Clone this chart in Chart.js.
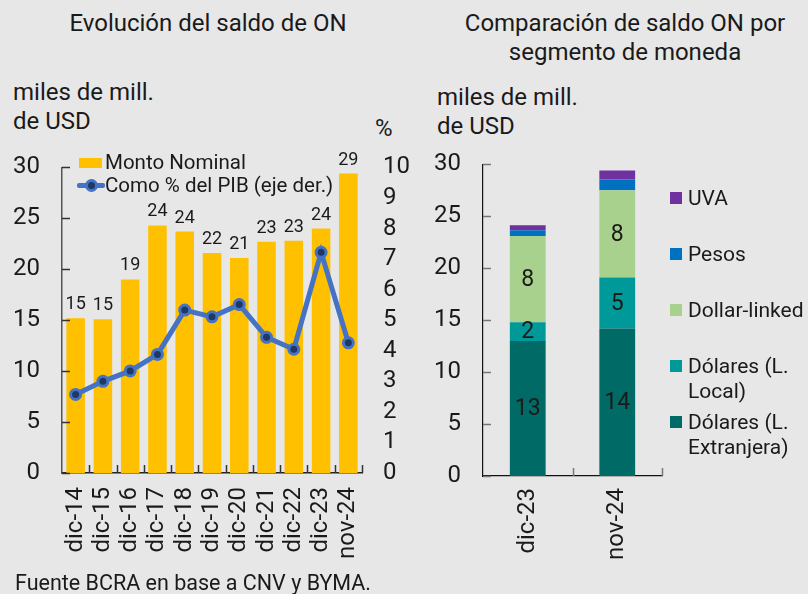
<!DOCTYPE html>
<html lang="es">
<head>
<meta charset="utf-8">
<script src="https://cdn.jsdelivr.net/npm/chart.js@4.4.1/dist/chart.umd.min.js"></script>
<style>
  html, body { margin: 0; padding: 0; }
  body {
    width: 808px; height: 594px; position: relative; overflow: hidden;
    background: #e7e7e7; color: #1a1a1a;
    font-family: Roboto, "Noto Sans", sans-serif;
  }
  .txt { position: absolute; white-space: nowrap; }
  canvas { position: absolute; }
  .leg { position: absolute; font-size: 20.5px; line-height: 24px; white-space: nowrap; }
  .leg .box { position: absolute; }
  .rleg { position: absolute; left: 670px; width: 138px; font-size: 21px; line-height: 24.5px; }
  .rleg .box { position: absolute; left: 0; top: 6px; width: 12px; height: 12px; }
  .rleg .lbl { position: absolute; left: 18px; width: 118px; white-space: normal; }
</style>
</head>
<body>

<div class="txt" style="left:0;width:416px;text-align:center;top:9px;font-size:24px;line-height:29px;">Evolución del saldo de ON</div>
<div class="txt" style="left:13px;top:78px;font-size:24px;line-height:29px;">miles de mill.<br>de USD</div>
<div class="txt" style="left:375px;top:114px;font-size:24px;line-height:29px;">%</div>

<div class="txt" style="left:420px;width:410px;text-align:center;top:9px;font-size:24px;line-height:29px;">Comparación de saldo ON por<br>segmento de moneda</div>
<div class="txt" style="left:437px;top:83px;font-size:24px;line-height:28.5px;">miles de mill.<br>de USD</div>

<canvas id="saldoChart" width="420" height="454" style="left:0;top:131px;"></canvas>
<canvas id="monedaChart" width="388" height="454" style="left:420px;top:128px;"></canvas>

<div id="saldoLegend"></div>
<div id="monedaLegend"></div>

<div class="txt" style="left:15px;top:570px;font-size:21.5px;line-height:26px;">Fuente BCRA en base a CNV y BYMA.</div>

<script>
// saldo de ON, miles de millones de USD y % del PIB
const years = ['dic-14', 'dic-15', 'dic-16', 'dic-17', 'dic-18', 'dic-19', 'dic-20', 'dic-21', 'dic-22', 'dic-23', 'nov-24'];
const montoNominal = [15.2, 15.1, 19.0, 24.3, 23.7, 21.6, 21.1, 22.7, 22.8, 24.0, 29.4];
const pctPib = [2.57, 3.0, 3.34, 3.88, 5.33, 5.11, 5.51, 4.44, 4.05, 7.22, 4.26];

// saldo por segmento de moneda
const fechas = ['dic-23', 'nov-24'];
const usdExtranjera = [13.0, 14.2];
const usdLocal = [1.8, 4.9];
const dollarLinked = [8.3, 8.4];
const pesos = [0.55, 1.05];
const uva = [0.48, 0.87];

const FONT = 'Roboto, "Noto Sans", sans-serif';
const INK = '#1a1a1a';

// short tick marks pointing into the plot (y ticks and x category boundaries)
const innerTicks = {
  id: 'innerTicks',
  afterDraw(chart, args, opts) {
    const { ctx, chartArea: { left, right, bottom }, scales } = chart;
    const x = scales.x, y = scales.y;
    ctx.save();
    ctx.strokeStyle = opts.color || '#666';
    ctx.lineWidth = opts.width || 1.5;
    ctx.beginPath();
    y.ticks.forEach((t, i) => {
      const py = Math.round(y.getPixelForTick(i)) + 0.5;
      ctx.moveTo(left, py); ctx.lineTo(left + 8, py);
    });
    const n = x.ticks.length;
    for (let i = 1; i <= n; i++) {
      const px = i === n ? right : (x.getPixelForTick(i - 1) + x.getPixelForTick(i)) / 2;
      ctx.moveTo(Math.round(px) + 0.5, bottom); ctx.lineTo(Math.round(px) + 0.5, bottom - 8);
    }
    ctx.stroke();
    ctx.restore();
  }
};

// rounded values above bars or centred in stacked segments
const valueLabels = {
  id: 'valueLabels',
  afterDatasetsDraw(chart) {
    const ctx = chart.ctx;
    chart.data.datasets.forEach((ds, di) => {
      if (!ds.valueLabel) return;
      const meta = chart.getDatasetMeta(di);
      ctx.save();
      ctx.fillStyle = INK;
      ctx.textAlign = 'center';
      meta.data.forEach((bar, i) => {
        const txt = String(Math.round(ds.data[i]));
        if (ds.valueLabel === 'top') {
          ctx.font = '18px ' + FONT;
          ctx.textBaseline = 'alphabetic';
          ctx.fillText(txt, bar.x, bar.y - 9);
        } else {
          ctx.font = '23px ' + FONT;
          ctx.textBaseline = 'middle';
          ctx.fillText(txt, bar.x, (bar.y + bar.base) / 2 + 1);
        }
      });
      ctx.restore();
    });
  }
};

const tickFont = { family: FONT, size: 24 };
const xFont = { family: FONT, size: 24 };

// y tick padding also pads the plot top in Chart.js, so the canvases sit a bit higher
const saldoChart = new Chart(document.getElementById('saldoChart'), {
  data: {
    labels: years,
    datasets: [
      { type: 'line', label: 'Como % del PIB (eje der.)', data: pctPib, yAxisID: 'y1',
        borderColor: '#4472C4', borderWidth: 5, tension: 0,
        pointRadius: 5, pointBorderWidth: 3, pointBackgroundColor: '#1F3864', pointBorderColor: '#4472C4',
        order: 0 },
      { type: 'bar', label: 'Monto Nominal', data: montoNominal, yAxisID: 'y',
        backgroundColor: '#FFC000', barPercentage: 0.68, categoryPercentage: 1,
        order: 1, valueLabel: 'top' }
    ]
  },
  options: {
    responsive: false, animation: false, devicePixelRatio: 1,
    layout: { padding: { left: 12, right: 8, top: 20, bottom: 12 } },
    plugins: { legend: { display: false }, tooltip: { enabled: false }, innerTicks: { color: '#333', width: 1.5 } },
    scales: {
      x: {
        grid: { display: false, drawTicks: false },
        border: { color: '#222', width: 1.5 },
        ticks: { font: xFont, color: INK, minRotation: 90, maxRotation: 90, autoSkip: false, padding: 14 },
        afterFit: s => { s.height = 100; }
      },
      y: {
        position: 'left', min: 0, max: 30,
        grid: { display: false, drawTicks: false },
        border: { color: '#555', width: 1.5 },
        ticks: { stepSize: 5, font: tickFont, color: INK, padding: 22, autoSkip: false },
        afterFit: s => { s.width = 50; }
      },
      y1: {
        position: 'right', min: 0, max: 10,
        grid: { display: false, drawTicks: false },
        border: { display: false },
        ticks: { stepSize: 1, font: tickFont, color: INK, padding: 21, autoSkip: false },
        afterFit: s => { s.width = 50; }
      }
    }
  },
  plugins: [innerTicks, valueLabels]
});

const monedaChart = new Chart(document.getElementById('monedaChart'), {
  type: 'bar',
  data: {
    labels: fechas,
    datasets: [
      { label: 'Dólares (L. Extranjera)', data: usdExtranjera, backgroundColor: '#006B66', valueLabel: 'center' },
      { label: 'Dólares (L. Local)', data: usdLocal, backgroundColor: '#009999', valueLabel: 'center' },
      { label: 'Dollar-linked', data: dollarLinked, backgroundColor: '#A9D18E', valueLabel: 'center' },
      { label: 'Pesos', data: pesos, backgroundColor: '#0070C0' },
      { label: 'UVA', data: uva, backgroundColor: '#7030A0' }
    ]
  },
  options: {
    responsive: false, animation: false, devicePixelRatio: 1,
    layout: { padding: { left: 13, right: 146, top: 20, bottom: 6 } },
    datasets: { bar: { barPercentage: 0.4, categoryPercentage: 1 } },
    plugins: { legend: { display: false }, tooltip: { enabled: false }, innerTicks: { color: '#777', width: 1.5 } },
    scales: {
      x: {
        stacked: true,
        grid: { display: false, drawTicks: false },
        border: { color: '#111', width: 1.2 },
        ticks: { font: xFont, color: INK, minRotation: 90, maxRotation: 90, autoSkip: false, padding: 12 },
        afterFit: s => { s.height = 100; }
      },
      y: {
        stacked: true, min: 0, max: 30,
        grid: { display: false, drawTicks: false },
        border: { color: '#111', width: 1.2 },
        ticks: { stepSize: 5, font: tickFont, color: INK, padding: 22, autoSkip: false },
        afterFit: s => { s.width = 50; }
      }
    }
  },
  plugins: [innerTicks, valueLabels]
});

// legend inside the left plot, taken from the chart's datasets
(function () {
  const box = document.getElementById('saldoLegend');
  const [lineDs, barDs] = saldoChart.data.datasets;
  box.innerHTML =
    `<div class="leg" style="left:105px;top:150px;">${barDs.label}` +
    `<span class="box" style="left:-26px;top:8px;width:23px;height:10px;background:${barDs.backgroundColor}"></span></div>` +
    `<div class="leg" style="left:105px;top:173px;">${lineDs.label}` +
    `<span class="box" style="left:-28px;top:10px;width:28px;height:5px;border-radius:2px;background:${lineDs.borderColor}"></span>` +
    `<span class="box" style="left:-20px;top:6px;width:7px;height:7px;border-radius:50%;border:3px solid ${lineDs.pointBorderColor};background:${lineDs.pointBackgroundColor}"></span></div>`;
})();

// legend to the right of the stacked bars, top segment first
(function () {
  const box = document.getElementById('monedaLegend');
  const items = monedaChart.data.datasets.slice().reverse();
  box.innerHTML = items.map((ds, i) =>
    `<div class="rleg" style="top:${186 + i * 56}px;">` +
    `<span class="box" style="background:${ds.backgroundColor}"></span>` +
    `<span class="lbl">${ds.label}</span></div>`
  ).join('');
})();
</script>
</body>
</html>
